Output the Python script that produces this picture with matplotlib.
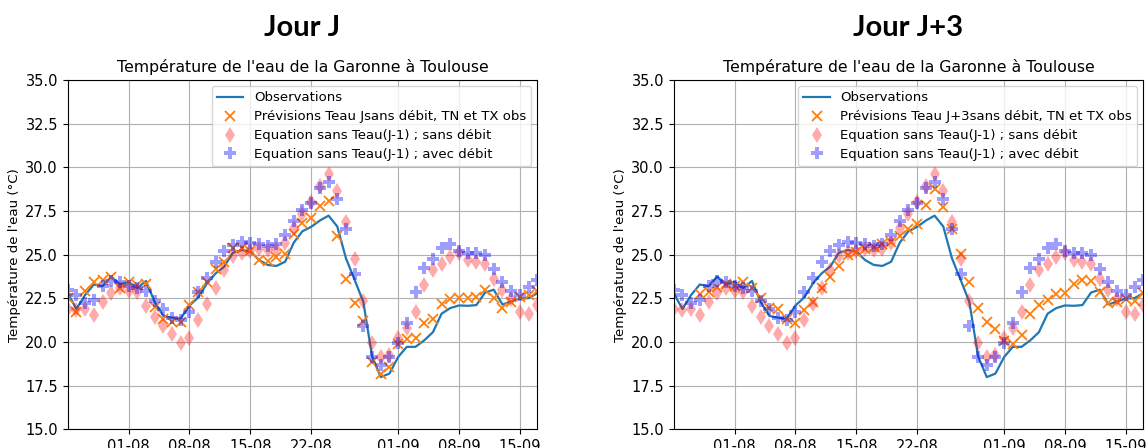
import numpy as np
import pandas as pd
import matplotlib
matplotlib.use("Agg")
import matplotlib.pyplot as plt
import matplotlib.dates as mdates

# Daily water temperature of the Garonne at Toulouse, summer 2022
dates = pd.date_range("2022-07-25", "2022-09-17", freq="D")

observations = [
    22.8, 21.9, 22.7, 23.3, 23.2, 23.75, 23.3, 23.45, 23.1, 23.5,
    22.3, 21.5, 21.4, 21.35, 22.1, 22.55, 23.35, 23.93, 24.32, 25.12,
    25.27, 25.2, 24.7, 24.42, 24.36, 24.6, 25.7, 26.35, 26.6, 26.96,
    27.24, 26.62, 24.8, 23.56, 22.3, 19.2, 18.0, 18.2, 19.15, 19.73,
    19.73, 20.1, 20.57, 21.63, 21.95, 22.1, 22.08, 22.12, 22.84, 23.0,
    22.15, 22.33, 22.5, 22.52, 22.8,
]

prev_j = [
    22.5, 21.7, 22.95, 23.42, 23.55, 23.72, 23.07, 23.45, 23.26, 23.3,
    22.02, 21.35, 21.16, 21.16, 22.15, 22.88, 23.45, 24.17, 24.58, 25.4,
    25.38, 25.22, 24.68, 24.62, 24.85, 25.02, 26.19, 26.8, 27.08, 27.77,
    28.06, 26.07, 23.64, 22.25, 21.2, 18.85, 18.2, 18.6, 19.91, 20.2,
    20.23, 21.07, 21.32, 22.16, 22.45, 22.5, 22.52, 22.6, 22.99, 22.52,
    21.98, 22.29, 22.6, 22.7, 22.95,
]

prev_j3 = [
    np.nan, np.nan, np.nan, 22.76, 22.85, 23.15, 23.35, 23.2, 23.45, 23.08,
    22.5, 21.97, 21.88, 21.35, 21.12, 21.82, 22.3, 23.12, 23.75, 24.38,
    24.98, 25.14, 25.33, 25.47, 25.64, 25.72, 26.1, 26.45, 26.74, 27.87,
    28.75, 27.75, 26.45, 25.02, 23.45, 21.93, 21.18, 20.73, 20.05, 19.91,
    20.4, 21.62, 22.11, 22.42, 22.73, 22.79, 23.3, 23.55, 23.52, 22.86,
    22.26, 22.31, 22.45, 22.38, 22.79,
]

eq_sans_debit = [
    21.92, 21.82, 21.92, 21.56, 22.3, 22.83, 23.09, 22.95, 22.86, 22.05,
    21.45, 20.92, 20.48, 19.97, 20.22, 21.25, 22.17, 23.09, 24.12, 24.93,
    25.1, 25.24, 25.33, 25.29, 25.33, 25.7, 26.51, 27.33, 28.0, 28.93,
    29.63, 28.66, 26.9, 24.74, 22.37, 19.93, 19.15, 19.25, 20.22, 20.8,
    21.73, 23.26, 24.12, 24.47, 24.9, 25.1, 24.71, 24.6, 24.45, 23.62,
    22.97, 22.45, 21.71, 21.61, 22.11,
]

eq_avec_debit = [
    23.0, 22.69, 22.24, 22.42, 23.2, 23.5, 23.43, 23.22, 23.09, 22.93,
    22.35, 21.9, 21.4, 21.24, 21.75, 22.86, 23.67, 24.57, 25.22, 25.55,
    25.75, 25.67, 25.6, 25.53, 25.63, 26.13, 26.95, 27.54, 27.99, 28.8,
    29.18, 28.18, 26.46, 23.9, 20.93, 19.13, 18.68, 19.15, 19.93, 21.08,
    22.88, 24.22, 24.75, 25.36, 25.6, 25.2, 25.12, 25.12, 24.96, 24.16,
    23.47, 22.91, 22.69, 23.16, 23.55,
]

panels = [
    ("Jour J", prev_j, "Prévisions Teau Jsans débit, TN et TX obs"),
    ("Jour J+3", prev_j3, "Prévisions Teau J+3sans débit, TN et TX obs"),
]

fig = plt.figure(figsize=(11.46, 4.48), dpi=100)
lefts = [0.0591, 0.5879]

for left, (head, prev, prev_label) in zip(lefts, panels):
    ax = fig.add_axes([left, 0.0413, 0.4097, 0.780])
    ax.plot(dates, observations, color="tab:blue", lw=1.6, label="Observations")
    ax.plot(dates, prev, "x", color="tab:orange", ms=7, mew=1.3, label=prev_label)
    ax.plot(dates, eq_sans_debit, "d", color="red", alpha=0.33, ms=8, mew=0,
            label="Equation sans Teau(J-1) ; sans débit")
    ax.plot(dates, eq_avec_debit, "P", color="blue", alpha=0.38, ms=8, mew=0,
            label="Equation sans Teau(J-1) ; avec débit")
    ax.set_xlim(dates[0], dates[-1])
    ax.set_ylim(15, 35)
    ax.xaxis.set_major_locator(mdates.DayLocator(bymonthday=[1, 8, 15, 22]))
    ax.xaxis.set_major_formatter(mdates.DateFormatter("%d-%m"))
    ax.tick_params(labelsize=10.5)
    ax.grid(True)
    ax.set_title("Température de l'eau de la Garonne à Toulouse", fontsize=11.3)
    ax.set_ylabel("Température de l'eau (°C)", fontsize=9.6, labelpad=3)
    ax.legend(loc="upper right", fontsize=9.5, borderaxespad=0.45,
              handletextpad=0.8, labelspacing=0.45)
    fig.text(left + 0.2048, 0.938, head, ha="center", va="center",
             fontsize=21, fontweight="bold", family="Lato")

fig.savefig("out.png", dpi=100)
